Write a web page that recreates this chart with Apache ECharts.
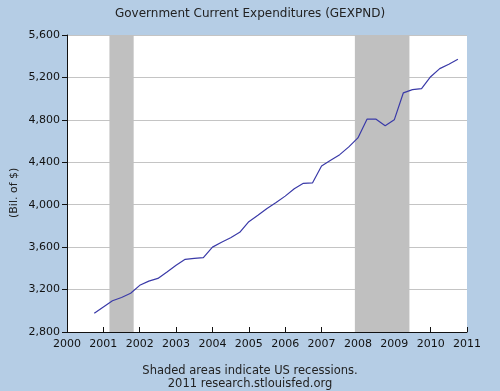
<!DOCTYPE html>
<html>
<head>
<meta charset="utf-8">
<script src="https://cdn.jsdelivr.net/npm/echarts@6/dist/echarts.min.js"></script>
<style>
html,body{margin:0;padding:0;background:#b5cde5;}
#c{width:500px;height:391px;}
</style>
</head>
<body>
<div id="c"></div>
<script>
// Quarterly observations
var quarters = [
  '2000Q4',
  '2001Q1','2001Q2','2001Q3','2001Q4',
  '2002Q1','2002Q2','2002Q3','2002Q4',
  '2003Q1','2003Q2','2003Q3','2003Q4',
  '2004Q1','2004Q2','2004Q3','2004Q4',
  '2005Q1','2005Q2','2005Q3','2005Q4',
  '2006Q1','2006Q2','2006Q3','2006Q4',
  '2007Q1','2007Q2','2007Q3','2007Q4',
  '2008Q1','2008Q2','2008Q3','2008Q4',
  '2009Q1','2009Q2','2009Q3','2009Q4',
  '2010Q1','2010Q2','2010Q3','2010Q4'
];
var gexpnd = [
  2976,
  3036, 3095, 3125, 3165,
  3240, 3280, 3305, 3366,
  3429, 3485, 3495, 3501,
  3600, 3646, 3689, 3740,
  3840, 3900, 3965, 4020,
  4081, 4150, 4202, 4205,
  4365, 4420, 4472, 4545,
  4630, 4806, 4806, 4745,
  4800, 5055, 5085, 5095,
  5207, 5283, 5325, 5371
];
// Recession periods (start, end) as decimal years
var recessionStarts = [2001 + 2/12, 2007 + 11/12];
var recessionEnds   = [2001 + 10/12, 2009 + 5/12];
var yTicks = [2800, 3200, 3600, 4000, 4400, 4800, 5200, 5600];
var xYears = [2000, 2011];

function qToYear(q) {
  return parseInt(q.slice(0, 4), 10) + (parseInt(q.slice(5), 10) - 1) / 4;
}
var seriesData = quarters.map(function (q, i) { return [qToYear(q), gexpnd[i]]; });
var areas = recessionStarts.map(function (s, i) {
  return [{ xAxis: s }, { xAxis: recessionEnds[i] }];
});

var FONT = 'DejaVu Sans';
var chart = echarts.init(document.getElementById('c'), null, { renderer: 'canvas' });
chart.setOption({
  backgroundColor: '#b5cde5',
  animation: false,
  textStyle: { fontFamily: FONT },
  title: {
    text: 'Government Current Expenditures (GEXPND)',
    left: 'center',
    top: 3,
    textStyle: { fontFamily: FONT, fontSize: 12, fontWeight: 'normal', color: '#222' }
  },
  grid: { left: 67, right: 33, top: 35, bottom: 59, backgroundColor: '#ffffff', show: true, borderWidth: 0 },
  xAxis: {
    type: 'value',
    min: xYears[0], max: xYears[1], interval: 1,
    axisLine: { lineStyle: { color: '#111', width: 1 } },
    axisTick: { inside: true, length: 5, lineStyle: { color: '#111' } },
    axisLabel: { fontFamily: FONT, fontSize: 11, color: '#111', margin: 7,
      formatter: function (v) { return String(v); } },
    splitLine: { show: false }
  },
  yAxis: {
    type: 'value',
    min: yTicks[0], max: yTicks[yTicks.length - 1], interval: 400,
    axisLine: { show: true, lineStyle: { color: '#111', width: 1 } },
    axisTick: { show: true, inside: false, length: 5, lineStyle: { color: '#111' } },
    axisLabel: { fontFamily: FONT, fontSize: 11, color: '#111', margin: 7,
      formatter: function (v) { return v.toLocaleString('en-US'); } },
    splitLine: { show: true, lineStyle: { color: '#c4c4c4', width: 1 } }
  },
  series: [{
    type: 'line',
    data: seriesData,
    showSymbol: false,
    symbol: 'none',
    lineStyle: { color: '#3a3aa8', width: 1.2 },
    z: 5,
    markArea: {
      silent: true,
      itemStyle: { color: '#c0c0c0', opacity: 1 },
      data: areas
    }
  }],
  graphic: [
    { type: 'text', rotation: Math.PI / 2, x: 9, y: 218,
      style: { text: '(Bil. of $)', font: '11px "DejaVu Sans"', fill: '#222' } },
    { type: 'text', left: 'center', top: 365,
      style: { text: 'Shaded areas indicate US recessions.', font: '11.5px "DejaVu Sans"', fill: '#222', textAlign: 'center' } },
    { type: 'text', left: 'center', top: 378,
      style: { text: '2011 research.stlouisfed.org', font: '11.5px "DejaVu Sans"', fill: '#222', textAlign: 'center' } }
  ]
});
</script>
</body>
</html>
